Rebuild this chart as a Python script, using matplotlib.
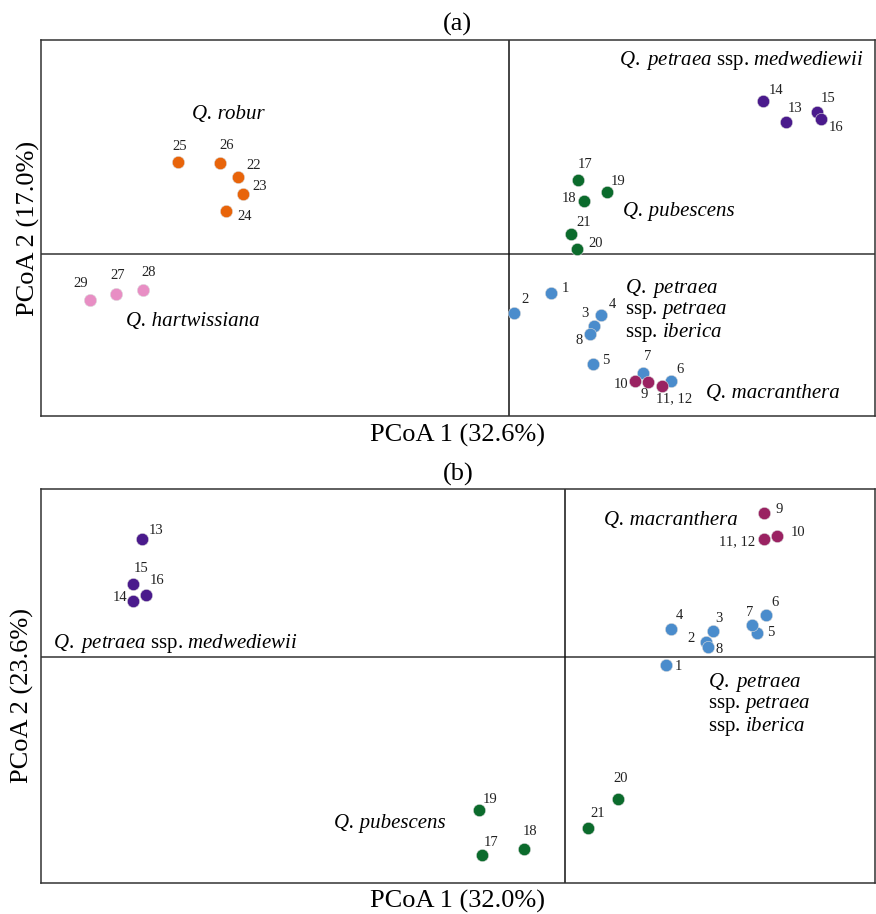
import matplotlib.pyplot as plt

plt.rcParams['font.family'] = ['Liberation Serif', 'DejaVu Serif']
plt.rcParams['mathtext.fontset'] = 'custom'
plt.rcParams['mathtext.rm'] = 'Liberation Serif'
plt.rcParams['mathtext.it'] = 'Liberation Serif:italic'

# === Données ===
# groupes : (couleur, liste des échantillons)
couleurs = {
    'petraea': '#4a8ccc',
    'macranthera': '#9a2262',
    'medwediewii': '#4a1a8c',
    'pubescens': '#0b6b2c',
    'robur': '#e8640a',
    'hartwissiana': '#e88ec4',
}

# panneau (a) : PCoA 1 (32.6%) / PCoA 2 (17.0%)
a_labels = ['1', '2', '3', '4', '5', '6', '7', '8', '9', '10', '11, 12',
            '13', '14', '15', '16', '17', '18', '19', '20', '21',
            '22', '23', '24', '25', '26', '27', '28', '29']
a_groupe = ['petraea'] * 8 + ['macranthera'] * 3 + ['medwediewii'] * 4 + \
           ['pubescens'] * 5 + ['robur'] * 5 + ['hartwissiana'] * 3
a_x = [0.42, 0.05, 0.85, 0.92, 0.84, 1.62, 1.34, 0.81, 1.39, 1.26, 1.53,
       2.77, 2.54, 3.08, 3.12, 0.69, 0.75, 0.98, 0.68, 0.62,
       -2.72, -2.67, -2.84, -3.32, -2.90, -3.94, -3.67, -4.20]
a_y = [-0.39, -0.59, -0.72, -0.61, -1.10, -1.27, -1.19, -0.80, -1.28, -1.27, -1.32,
       1.32, 1.53, 1.42, 1.35, 0.74, 0.53, 0.62, 0.05, 0.20,
       0.77, 0.60, 0.43, 0.92, 0.91, -0.40, -0.36, -0.46]
# décalage des numéros (pixels)
a_dx = [14, 11, -9, 11, 13, 9, 5, -11, -4, -14, 12,
        9, 13, 11, 15, 7, -15, 11, 19, 13,
        16, 17, 19, 2, 7, 2, 6, -9]
a_dy = [4, 13, 12, 10, 3, 11, 16, -7, -13, -4, -13,
        14, 11, 14, -8, 16, 3, 11, 5, 11,
        12, 8, -5, 16, 18, 18, 17, 16]

# panneau (b) : PCoA 1 (32.0%) / PCoA 2 (23.6%)
b_labels = ['1', '2', '3', '4', '5', '6', '7', '8', '9', '10', '11, 12',
            '13', '14', '15', '16', '17', '18', '19', '20', '21']
b_groupe = ['petraea'] * 8 + ['macranthera'] * 3 + ['medwediewii'] * 4 + ['pubescens'] * 5
b_x = [1.01, 1.41, 1.48, 1.06, 1.92, 2.01, 1.87, 1.43, 1.99, 2.12, 1.99,
       -4.24, -4.33, -4.33, -4.20, -0.83, -0.41, -0.86, 0.53, 0.23]
b_y = [-0.08, 0.15, 0.26, 0.28, 0.24, 0.42, 0.32, 0.10, 1.44, 1.21, 1.18,
       1.18, 0.56, 0.73, 0.62, -1.98, -1.92, -1.53, -1.42, -1.71]
b_dx = [13, -15, 6, 9, 14, 9, -2, 11, 15, 21, -27,
        14, -13, 8, 11, 9, 6, 11, 3, 10]
b_dy = [-1, 4, 13, 14, 1, 13, 13, -2, 4, 4, -2,
        9, 4, 16, 15, 13, 18, 11, 21, 15]

# noms des groupes
nom_petraea = r'$\mathit{Q.\ petraea}$' + '\nssp. ' + r'$\mathit{petraea}$' + '\nssp. ' + r'$\mathit{iberica}$'
nom_medw = r'$\mathit{Q.\ petraea}$' + ' ssp. ' + r'$\mathit{medwediewii}$'

fig = plt.figure(figsize=(8.76, 9.14), dpi=100)
ax_a = fig.add_axes([0.0468, 0.5449, 0.9515, 0.4113])
ax_b = fig.add_axes([0.0468, 0.0336, 0.9515, 0.4311])


def panneau(ax, xs, ys, groupes, labels, dxs, dys, xlim, ylim):
    for x, y, g, lab, dx, dy in zip(xs, ys, groupes, labels, dxs, dys):
        ax.scatter(x, y, s=78, color=couleurs[g], edgecolors='#dddddd',
                   linewidths=0.4, zorder=3)
        ax.annotate(lab, (x, y), xytext=(dx, dy), textcoords='offset pixels',
                    ha='center', va='center', fontsize=10.5, color='#222222')
    ax.axhline(0, color='#333333', lw=1.1, zorder=1)
    ax.axvline(0, color='#111111', lw=1.1, zorder=1)
    ax.set_xlim(*xlim)
    ax.set_ylim(*ylim)
    ax.set_xticks([])
    ax.set_yticks([])
    for s in ax.spines.values():
        s.set_linewidth(1.1)
        s.set_color('#333333')


panneau(ax_a, a_x, a_y, a_groupe, a_labels, a_dx, a_dy, (-4.69, 3.66), (-1.62, 2.14))
panneau(ax_b, b_x, b_y, b_groupe, b_labels, b_dx, b_dy, (-5.25, 3.10), (-2.26, 1.68))

fs = 15
# (a)
ax_a.text(-2.81, 1.40, 'Q. robur', style='italic', fontsize=fs, ha='center', va='center')
ax_a.text(-3.17, -0.68, 'Q. hartwissiana', style='italic', fontsize=fs, ha='center', va='center')
ax_a.text(2.33, 1.94, nom_medw, fontsize=fs, ha='center', va='center')
ax_a.text(1.14, 0.43, 'Q. pubescens', style='italic', fontsize=fs, ha='left', va='center')
ax_a.text(1.16, -0.565, nom_petraea, fontsize=fs, ha='left', va='center', linespacing=1.0)
ax_a.text(1.97, -1.40, 'Q. macranthera', style='italic', fontsize=fs, ha='left', va='center')
# (b)
ax_b.text(1.06, 1.37, 'Q. macranthera', style='italic', fontsize=fs, ha='center', va='center')
ax_b.text(-3.90, 0.14, nom_medw, fontsize=fs, ha='center', va='center')
ax_b.text(-1.76, -1.66, 'Q. pubescens', style='italic', fontsize=fs, ha='center', va='center')
ax_b.text(1.43, -0.47, nom_petraea, fontsize=fs, ha='left', va='center', linespacing=1.0)

ax_a.set_title('(a)', fontsize=19, pad=7)
ax_b.set_title('(b)', fontsize=19, pad=6)
ax_a.set_xlabel('PCoA 1 (32.6%)', fontsize=19, labelpad=6)
ax_a.set_ylabel('PCoA 2 (17.0%)', fontsize=19, labelpad=1)
ax_b.set_xlabel('PCoA 1 (32.0%)', fontsize=19, labelpad=5)
ax_b.set_ylabel('PCoA 2 (23.6%)', fontsize=19)
ax_b.yaxis.set_label_coords(-0.008, 0.477)

fig.savefig('out.png', dpi=100)
